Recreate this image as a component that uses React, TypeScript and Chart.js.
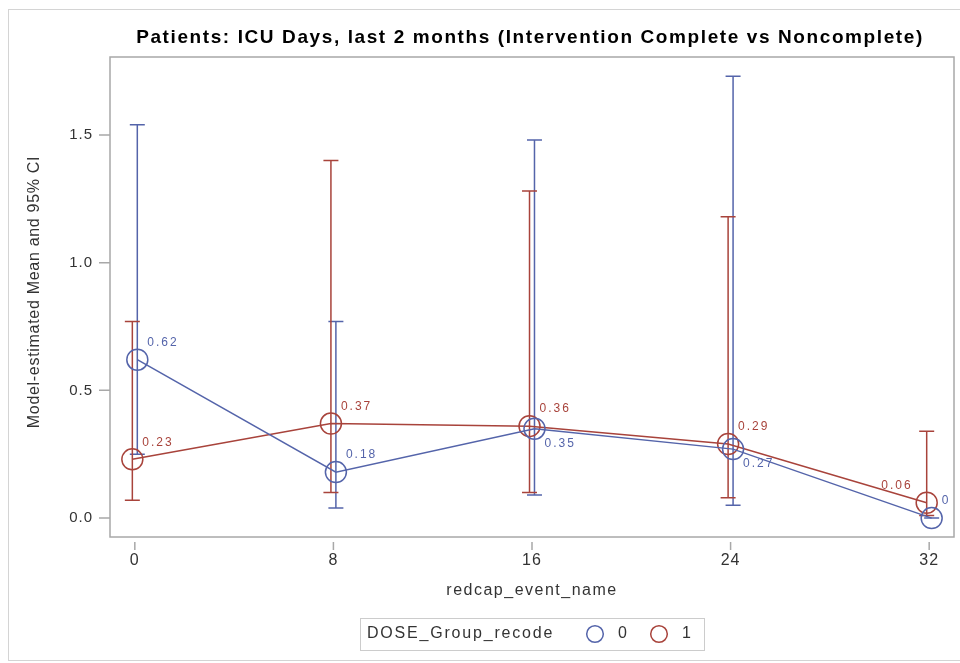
import { useEffect, useRef } from 'react';
import { Chart, registerables } from 'chart.js';

Chart.register(...registerables);

// Visit weeks on the x axis
const visits = [0, 8, 16, 24, 32];
const xTicks = [0, 8, 16, 24, 32];
const yTicks = [0, 0.5, 1.0, 1.5];
const groupNames = ['0', '1'];

// DOSE_Group_recode = 0
const mean0 = [0.62, 0.18, 0.35, 0.27, 0];
const lower0 = [0.25, 0.04, 0.09, 0.05, 0];
const upper0 = [1.54, 0.77, 1.48, 1.73, 0];
// DOSE_Group_recode = 1
const mean1 = [0.23, 0.37, 0.36, 0.29, 0.06];
const lower1 = [0.07, 0.1, 0.1, 0.08, 0.01];
const upper1 = [0.77, 1.4, 1.28, 1.18, 0.34];

// Where each value label sits relative to its marker
const labelSide0 = ['ne', 'ne', 'se', 'se', 'ne'];
const labelSide1 = ['ne', 'ne', 'ne', 'ne', 'nw'];

const BLUE = '#5464aa';
const RED = '#a8433b';
const FRAME = '#a8a8a8';
const TEXT = '#333333';
const FONT = '"Liberation Sans", Arial, sans-serif';
const CLUSTER = 0.1; // small horizontal dodge between groups

type Series = {
  color: string;
  shift: number;
  mean: number[];
  lower: number[];
  upper: number[];
  side: string[];
};

const series: Series[] = [
  { color: BLUE, shift: CLUSTER, mean: mean0, lower: lower0, upper: upper0, side: labelSide0 },
  { color: RED, shift: -CLUSTER, mean: mean1, lower: lower1, upper: upper1, side: labelSide1 },
];

function drawText(
  ctx: CanvasRenderingContext2D,
  text: string,
  x: number,
  y: number,
  font: string,
  color: string,
  align: CanvasTextAlign,
  spacing = 0
) {
  ctx.save();
  ctx.font = font;
  ctx.fillStyle = color;
  ctx.textAlign = align;
  ctx.textBaseline = 'middle';
  (ctx as any).letterSpacing = spacing + 'px';
  ctx.fillText(text, x, y);
  ctx.restore();
}

const decorPlugin = {
  id: 'decor',
  beforeDraw(chart: Chart) {
    const ctx = chart.ctx;
    ctx.save();
    ctx.fillStyle = '#ffffff';
    ctx.fillRect(0, 0, chart.width, chart.height);
    ctx.strokeStyle = '#d4d4d4';
    ctx.lineWidth = 1;
    ctx.strokeRect(8.5, 9.5, chart.width, 651);
    ctx.restore();
  },
  beforeDatasetsDraw(chart: Chart) {
    const ctx = chart.ctx;
    const xs = chart.scales.x;
    const ys = chart.scales.y;
    ctx.save();
    ctx.lineWidth = 1.5;
    series.forEach((s) => {
      ctx.strokeStyle = s.color;
      visits.forEach((v, i) => {
        const x = xs.getPixelForValue(v + s.shift);
        const yl = ys.getPixelForValue(s.lower[i]);
        const yu = ys.getPixelForValue(s.upper[i]);
        ctx.beginPath();
        ctx.moveTo(x, yl);
        ctx.lineTo(x, yu);
        ctx.moveTo(x - 7.5, yl);
        ctx.lineTo(x + 7.5, yl);
        ctx.moveTo(x - 7.5, yu);
        ctx.lineTo(x + 7.5, yu);
        ctx.stroke();
      });
    });
    ctx.restore();
  },
  afterDatasetsDraw(chart: Chart) {
    const ctx = chart.ctx;
    const xs = chart.scales.x;
    const ys = chart.scales.y;
    const area = chart.chartArea;

    // value labels
    series.forEach((s) => {
      visits.forEach((v, i) => {
        const x = xs.getPixelForValue(v + s.shift);
        const y = ys.getPixelForValue(s.mean[i]);
        const txt = String(s.mean[i]);
        const side = s.side[i];
        const font = `12px ${FONT}`;
        if (side === 'ne') drawText(ctx, txt, x + 10, y - 17, font, s.color, 'left', 2);
        else if (side === 'se') drawText(ctx, txt, x + 10, y + 15, font, s.color, 'left', 2);
        else drawText(ctx, txt, x - 14, y - 17, font, s.color, 'right', 2);
      });
    });

    // plot frame
    ctx.save();
    ctx.strokeStyle = FRAME;
    ctx.lineWidth = 1.5;
    ctx.strokeRect(area.left, area.top, area.right - area.left, area.bottom - area.top);

    // tick marks
    ctx.beginPath();
    yTicks.forEach((t) => {
      const y = ys.getPixelForValue(t);
      ctx.moveTo(area.left - 11, y);
      ctx.lineTo(area.left, y);
    });
    xTicks.forEach((t) => {
      const x = xs.getPixelForValue(t);
      ctx.moveTo(x, area.bottom + 5);
      ctx.lineTo(x, area.bottom + 13);
    });
    ctx.stroke();
    ctx.restore();

    // tick labels
    yTicks.forEach((t) => {
      drawText(ctx, t.toFixed(1), area.left - 17, ys.getPixelForValue(t), `15px ${FONT}`, TEXT, 'right', 1);
    });
    xTicks.forEach((t) => {
      drawText(ctx, String(t), xs.getPixelForValue(t), area.bottom + 24, `16px ${FONT}`, TEXT, 'center', 1);
    });

    const cx = (area.left + area.right) / 2;
    // chart title
    drawText(
      ctx,
      'Patients: ICU Days, last 2 months (Intervention Complete vs Noncomplete)',
      cx - 2,
      38,
      `bold 19px ${FONT}`,
      '#000000',
      'center',
      1.6
    );
    // axis titles
    drawText(ctx, 'redcap_event_name', cx, area.bottom + 54, `16px ${FONT}`, TEXT, 'center', 1.5);
    ctx.save();
    ctx.translate(35, (area.top + area.bottom) / 2 - 5);
    ctx.rotate(-Math.PI / 2);
    drawText(ctx, 'Model-estimated Mean and 95% CI', 0, 0, `16px ${FONT}`, TEXT, 'center', 0.7);
    ctx.restore();

    // legend
    ctx.save();
    ctx.strokeStyle = '#cccccc';
    ctx.lineWidth = 1;
    ctx.strokeRect(360.5, 618.5, 344, 32);
    ctx.restore();
    const ly = 634;
    drawText(ctx, 'DOSE_Group_recode', 367, ly, `16px ${FONT}`, TEXT, 'left', 1.8);
    const swatchX = [595, 659];
    series.forEach((s, k) => {
      ctx.save();
      ctx.strokeStyle = s.color;
      ctx.lineWidth = 1.5;
      ctx.beginPath();
      ctx.arc(swatchX[k], ly, 8.3, 0, Math.PI * 2);
      ctx.stroke();
      ctx.restore();
      drawText(ctx, groupNames[k], swatchX[k] + 23, ly, `16px ${FONT}`, TEXT, 'left', 0);
    });
  },
};

export default function App() {
  const canvasRef = useRef<HTMLCanvasElement | null>(null);

  useEffect(() => {
    document.body.style.margin = '0';
    const canvas = canvasRef.current;
    if (!canvas) return;
    const chart = new Chart(canvas, {
      type: 'line',
      data: {
        datasets: series.map((s, k) => ({
          label: groupNames[k],
          data: visits.map((v, i) => ({ x: v + s.shift, y: s.mean[i] })),
          borderColor: s.color,
          backgroundColor: 'rgba(0,0,0,0)',
          borderWidth: 1.5,
          pointRadius: 10.5,
          pointBorderWidth: 1.5,
          pointBorderColor: s.color,
          pointBackgroundColor: 'rgba(0,0,0,0)',
          tension: 0,
          fill: false,
        })),
      },
      options: {
        animation: false,
        responsive: false,
        devicePixelRatio: 1,
        layout: { autoPadding: false, padding: { left: 110, right: 6, top: 57, bottom: 126 } },
        plugins: {
          legend: { display: false },
          title: { display: false },
          tooltip: { enabled: false },
        },
        scales: {
          x: { type: 'linear', min: -1, max: 33, display: false },
          y: { type: 'linear', min: -0.074, max: 1.805, display: false },
        },
      },
      plugins: [decorPlugin],
    });
    return () => chart.destroy();
  }, []);

  return (
    <div style={{ width: 960, height: 663 }}>
      <canvas ref={canvasRef} width={960} height={663} />
    </div>
  );
}
